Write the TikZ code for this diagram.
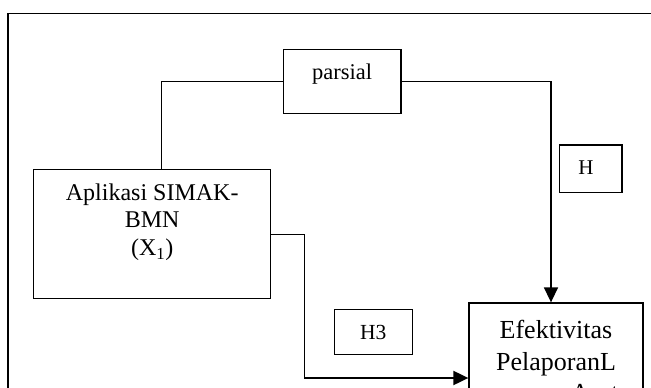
\documentclass[tikz,border=0pt]{standalone}
\usepackage{fontspec}
\setmainfont{Liberation Serif}
\usetikzlibrary{arrows.meta}
\begin{document}
\begin{tikzpicture}[x=1pt,y=-1pt,
  box/.style={draw=black,line width=1.3pt,rectangle,inner sep=0pt},
  txt/.style={align=center,inner sep=0pt,text=black},
  conn/.style={draw=black,line width=1pt},
  arr/.style={draw=black,-{Triangle[length=15pt,width=14pt]}}
]
\useasboundingbox (0,0) rectangle (651,388);
\clip (0,0) rectangle (651,388);
\fill[white] (0,0) rectangle (651,388);
% outer border
\coordinate (bTR) at (660,13.5);
\coordinate (bTL) at (8,13.5);
\coordinate (bBL) at (8,400);
\draw[line width=1.4pt] (bTR) -- (bTL) -- (bBL);
% boxes
\node[box,minimum width=117.7pt,minimum height=64pt] (parsial) at (342.2,81.3) {};
\node[txt,font=\fontsize{22.5}{26}\selectfont] (parsialT) at (342.2,74) {parsial};
\node[box,minimum width=237pt,minimum height=129.4pt] (aplikasi) at (152.2,234) {};
\node[txt,font=\fontsize{24}{27.5}\selectfont] (aplikasiT) at (152.2,222) {Aplikasi SIMAK-\\BMN\\(X\textsubscript{1})};
\node[box,minimum width=62.7pt,minimum height=47.7pt] (h) at (590.7,168.8) {};
\node[txt,font=\fontsize{21}{24}\selectfont] (hT) at (586,167.5) {H};
\node[box,minimum width=78pt,minimum height=45pt] (h3) at (373.3,332.2) {};
\node[txt,font=\fontsize{21.5}{24}\selectfont] (h3T) at (373.3,332.2) {H3};
\node[box,minimum width=174pt,minimum height=150pt] (efek) at (556,378) {};
\node[txt,font=\fontsize{26}{31.6}\selectfont] (efekT) at (556,364) {Efektivitas\\PelaporanL\\aporan Aset};
% connectors
\coordinate (c1) at (551,81.3);
\coordinate (c2) at (161.5,81.3);
\coordinate (c3) at (304,234);
\draw[conn] (parsial.west) -- (c2) -- (c2 |- aplikasi.north);
\draw[conn] (parsial.east) -- (c1);
\draw[arr,line width=1.5pt] (c1) -- (c1 |- efek.north);
\draw[conn] (aplikasi.east) -- (c3) -- (c3 |- efek.west);
\draw[arr,line width=2pt] (c3 |- efek.west) -- (efek.west);
\end{tikzpicture}
\end{document}
